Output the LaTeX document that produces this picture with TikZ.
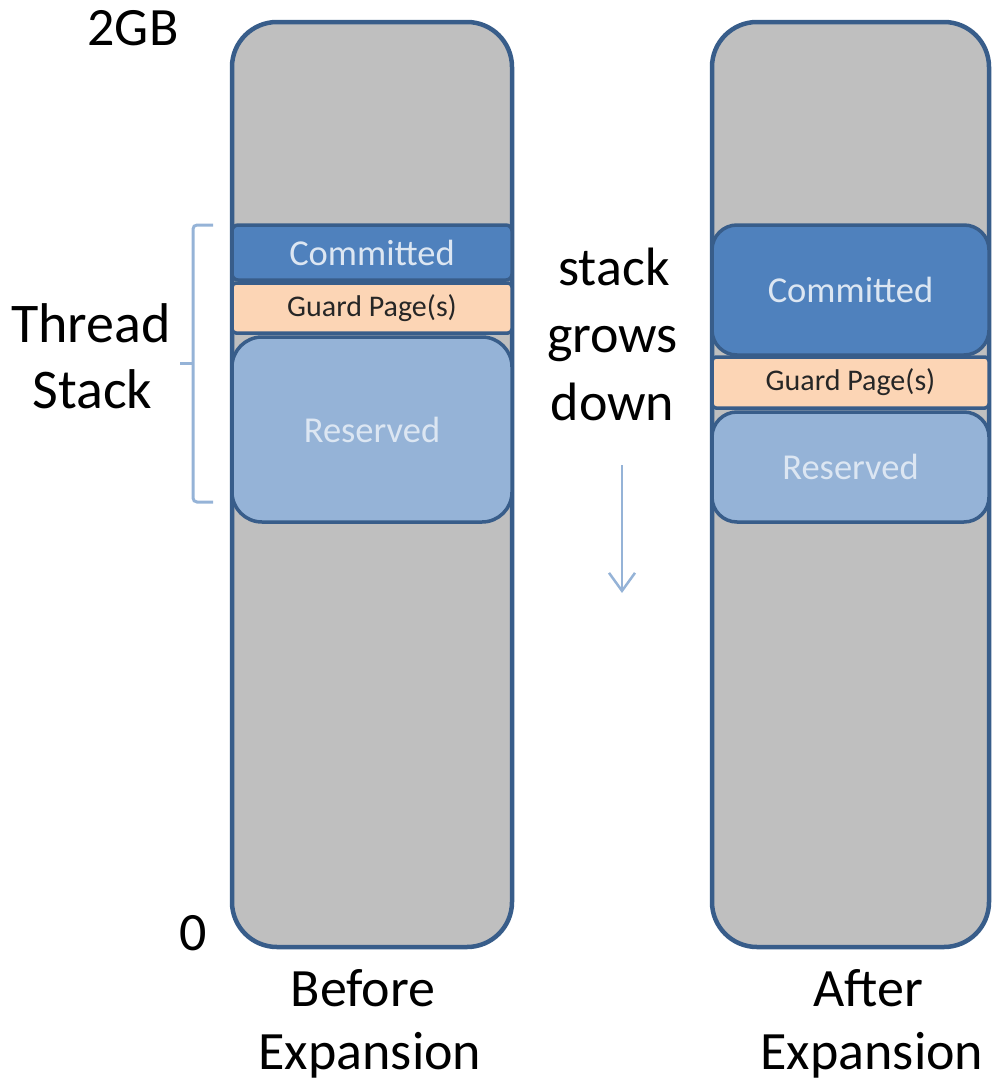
\documentclass[tikz,border=0pt]{standalone}
\usepackage{fontspec}
\setmainfont{Carlito}
\usetikzlibrary{arrows.meta}
\definecolor{outline}{RGB}{56,93,138}
\definecolor{memgray}{RGB}{191,191,191}
\definecolor{commitblue}{RGB}{79,129,189}
\definecolor{guardpeach}{RGB}{252,213,181}
\definecolor{reservedblue}{RGB}{149,179,215}
\definecolor{lighttext}{RGB}{220,230,242}
\definecolor{accent}{RGB}{149,179,215}
\tikzset{
  bigtext/.style={font=\fontsize{54}{66}\selectfont, text=black, anchor=base, inner sep=0pt},
  column/.style={draw=outline, line width=4.5pt, fill=memgray, rectangle, rounded corners=45pt, inner sep=0pt},
  region/.style={draw=outline, line width=3.5pt, rectangle, inner sep=0pt},
  commitbox/.style={region, fill=commitblue, text=lighttext, font=\fontsize{36.5}{42}\selectfont},
  guardbox/.style={region, fill=guardpeach, text=black!85, font=\fontsize{30}{34}\selectfont, rounded corners=4pt},
  reservedbox/.style={region, fill=reservedblue, text=lighttext, font=\fontsize{36.5}{42}\selectfont},
  bracket/.style={draw=accent, line width=3pt},
  growarrow/.style={draw=accent, line width=2.5pt, -{Straight Barb[length=18pt,width=26pt,line width=2.5pt]}}
}
\begin{document}
\begin{tikzpicture}[x=1pt,y=-1pt]
\useasboundingbox (0,0) rectangle (992,1084);
% columns
\node[column, minimum width=280pt, minimum height=925pt] (leftcol) at (372,484.5) {};
\node[column, minimum width=277pt, minimum height=925pt] (rightcol) at (850.5,484.5) {};
% left regions
\node[commitbox, rounded corners=6pt, minimum width=280pt, minimum height=55pt] (lcommit) at (372,252.5) {Committed};
\node[guardbox, minimum width=280pt, minimum height=50pt] (lguard) at (372,308) {Guard Page(s)};
\node[reservedbox, rounded corners=30pt, minimum width=280pt, minimum height=185pt] (lreserved) at (372,429.5) {Reserved};
% right regions
\node[commitbox, rounded corners=25pt, minimum width=277pt, minimum height=130pt] (rcommit) at (850.5,290) {Committed};
\node[guardbox, minimum width=277pt, minimum height=51pt] (rguard) at (850.5,382.5) {Guard Page(s)};
\node[reservedbox, rounded corners=25pt, minimum width=277pt, minimum height=110pt] (rreserved) at (850.5,467) {Reserved};
% labels
\node[bigtext] (top) at (133,45) {2GB};
\node[bigtext] (zero) at (193.5,950) {0};
\node[bigtext, font=\fontsize{56}{66}\selectfont] (thread1) at (91,342) {Thread};
\node[bigtext, font=\fontsize{56}{66}\selectfont] (thread2) at (92.5,408) {Stack};
\node[bigtext] (grow1) at (614,285) {stack};
\node[bigtext] (grow2) at (612.5,352) {grows};
\node[bigtext] (grow3) at (612.5,420) {down};
\node[bigtext] (before1) at (363,1006) {Before};
\node[bigtext] (before2) at (370,1069) {Expansion};
\node[bigtext] (after1) at (868,1006) {After};
\node[bigtext] (after2) at (872,1069) {Expansion};
% bracket
\draw[bracket, rounded corners=4pt] (213,225) -- (193,225) -- (193,502) -- (213,502);
\draw[bracket] (193,363) -- (180,363);
% arrow
\coordinate (arrowtop) at (622,465);
\coordinate (arrowbot) at (622,593);
\draw[growarrow] (arrowtop) -- (arrowbot);
\end{tikzpicture}
\end{document}
